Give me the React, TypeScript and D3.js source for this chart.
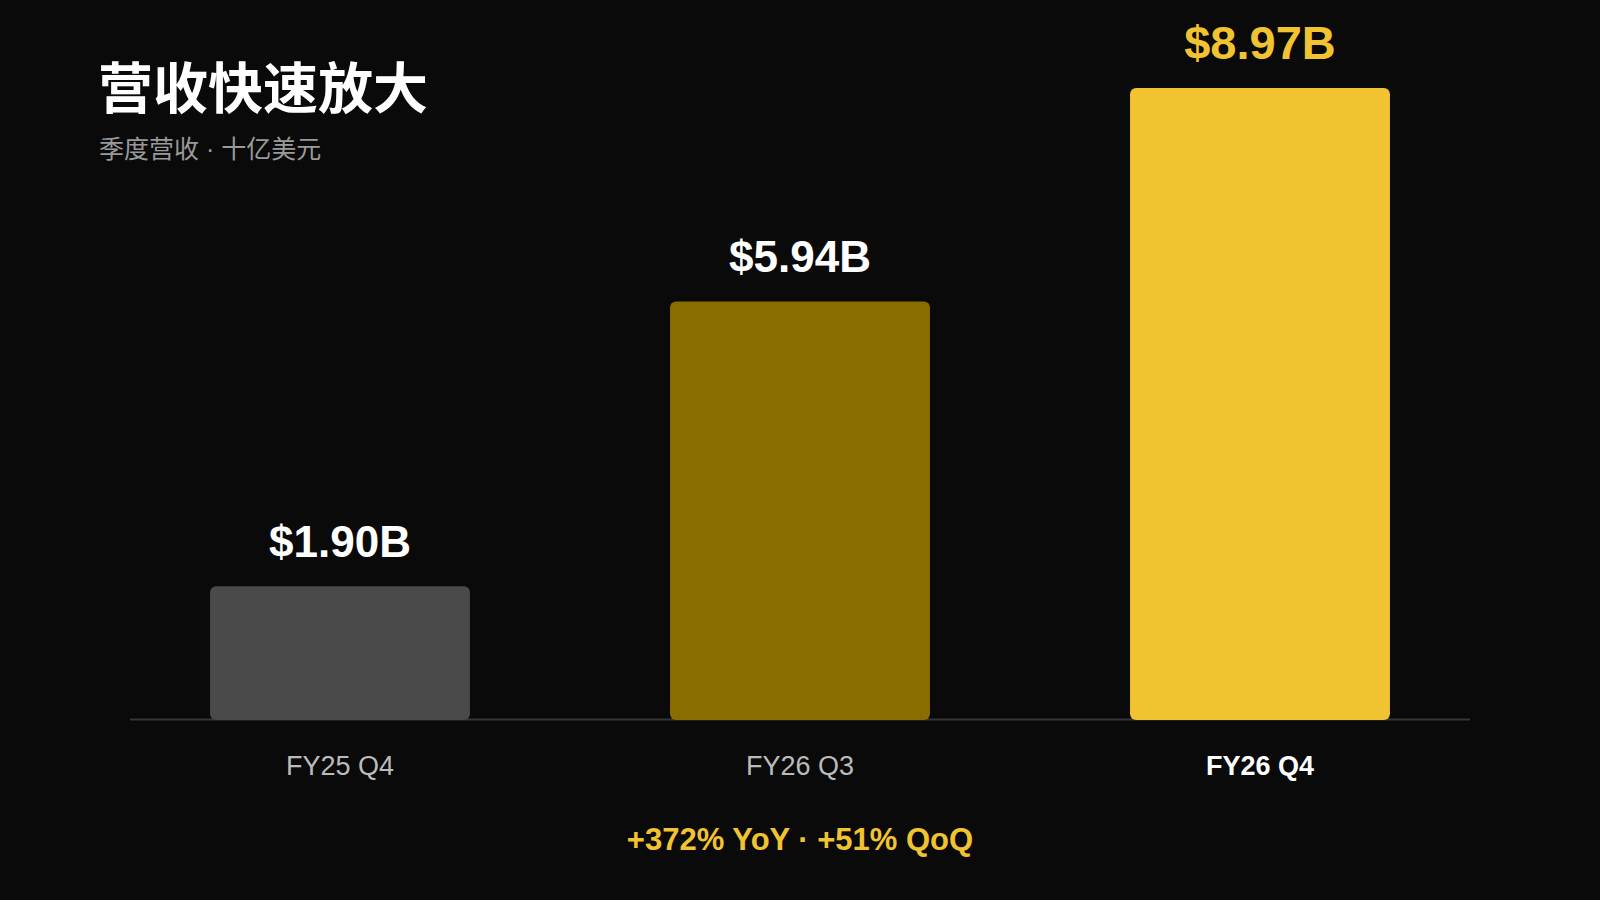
import { useEffect, useRef } from 'react';
import * as d3 from 'd3';

const quarters = ['FY25 Q4', 'FY26 Q3', 'FY26 Q4'];
const revenue = [1.9, 5.94, 8.97];
const valueLabels = ['$1.90B', '$5.94B', '$8.97B'];
const barColors = ['#4a4a4a', '#8a6d00', '#f2c330'];
const labelColors = ['#ffffff', '#ffffff', '#f2c330'];
const growthNote = '+372% YoY · +51% QoQ';

const WIDTH = 1600;
const HEIGHT = 900;
const FONT = '"Liberation Sans", Arial, "Noto Sans CJK SC", sans-serif';

export default function App() {
  const svgRef = useRef<SVGSVGElement | null>(null);

  useEffect(() => {
    if (!svgRef.current) return;
    const svg = d3.select(svgRef.current);
    svg.selectAll('*').remove();

    const baseline = 720;
    const last = quarters.length - 1;

    const x = d3
      .scaleBand<string>()
      .domain(quarters)
      .range([130, 1470])
      .paddingInner(0.435)
      .paddingOuter(0.174);

    const y = d3
      .scaleLinear()
      .domain([0, d3.max(revenue) || 0])
      .range([baseline, 88]);

    svg
      .append('rect')
      .attr('width', WIDTH)
      .attr('height', HEIGHT)
      .attr('fill', '#0a0a0a');

    // title
    svg
      .append('text')
      .attr('x', 98)
      .attr('y', 108)
      .attr('fill', '#ffffff')
      .style('font-family', '"Noto Sans CJK SC", sans-serif')
      .style('font-weight', 700)
      .style('font-size', '55px')
      .text('营收快速放大');

    svg
      .append('text')
      .attr('x', 99)
      .attr('y', 158)
      .attr('fill', '#9a9a9a')
      .style('font-family', FONT)
      .style('font-size', '25px')
      .text('季度营收 · 十亿美元');

    // baseline
    svg
      .append('line')
      .attr('x1', 130)
      .attr('x2', 1470)
      .attr('y1', baseline - 0.5)
      .attr('y2', baseline - 0.5)
      .attr('stroke', '#363636')
      .attr('stroke-width', 2);

    svg
      .append('g')
      .selectAll('rect')
      .data(quarters)
      .join('rect')
      .attr('x', (d) => x(d)!)
      .attr('y', (_, i) => y(revenue[i]))
      .attr('width', x.bandwidth())
      .attr('height', (_, i) => baseline - y(revenue[i]))
      .attr('rx', 6)
      .attr('fill', (_, i) => barColors[i]);

    svg
      .append('g')
      .selectAll('text')
      .data(quarters)
      .join('text')
      .attr('x', (d) => x(d)! + x.bandwidth() / 2)
      .attr('y', (_, i) => y(revenue[i]) - 29)
      .attr('text-anchor', 'middle')
      .attr('fill', (_, i) => labelColors[i])
      .style('font-family', FONT)
      .style('font-weight', 700)
      .style('font-size', (_, i) => (i === last ? '47px' : '44px'))
      .text((_, i) => valueLabels[i]);

    // category labels
    svg
      .append('g')
      .selectAll('text')
      .data(quarters)
      .join('text')
      .attr('x', (d) => x(d)! + x.bandwidth() / 2)
      .attr('y', 775)
      .attr('text-anchor', 'middle')
      .attr('fill', (_, i) => (i === last ? '#ffffff' : '#bbbbbb'))
      .style('font-family', FONT)
      .style('font-weight', (_, i) => (i === last ? 700 : 400))
      .style('font-size', '27px')
      .text((d) => d);

    svg
      .append('text')
      .attr('x', WIDTH / 2)
      .attr('y', 850)
      .attr('text-anchor', 'middle')
      .attr('fill', '#f2c330')
      .style('font-family', FONT)
      .style('font-weight', 700)
      .style('font-size', '31px')
      .text(growthNote);
  }, []);

  return (
    <div style={{ position: 'fixed', left: 0, top: 0, width: WIDTH, height: HEIGHT, background: '#0a0a0a' }}>
      <svg ref={svgRef} width={WIDTH} height={HEIGHT} style={{ display: 'block' }} />
    </div>
  );
}
